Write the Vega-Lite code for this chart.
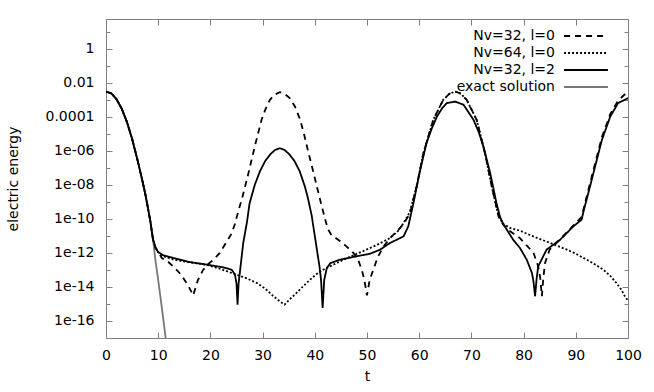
{
  "$schema": "https://vega.github.io/schema/vega-lite/v6.json",
  "width": 522,
  "height": 319,
  "autosize": {"type": "none"},
  "padding": {"left": 106, "top": 19, "right": 26, "bottom": 54},
  "background": "white",
  "config": {
    "view": {"stroke": "#808080", "strokeWidth": 1},
    "axis": {
      "labelFont": "DejaVu Sans", "labelFontSize": 14, "labelColor": "black",
      "titleFont": "DejaVu Sans", "titleFontSize": 14, "titleFontWeight": "normal", "titleColor": "black",
      "domain": false, "grid": false, "tickColor": "#808080", "tickWidth": 1,
      "labelFlush": false, "labelOverlap": false
    }
  },
  "data": {"values": [
    {"s":"exact solution","t":0,"v":3.02e-3},{"s":"exact solution","t":1,"v":2.34e-3},{"s":"exact solution","t":2,"v":1.10e-3},{"s":"exact solution","t":3,"v":3.02e-4},{"s":"exact solution","t":4,"v":5.01e-5},{"s":"exact solution","t":5,"v":5.01e-6},{"s":"exact solution","t":6,"v":3.16e-7},{"s":"exact solution","t":7,"v":1.58e-8},{"s":"exact solution","t":7.5,"v":3.16e-9},{"s":"exact solution","t":8,"v":5.01e-10},{"s":"exact solution","t":8.5,"v":7.08e-11},{"s":"exact solution","t":9,"v":6.31e-12},{"s":"exact solution","t":9.5,"v":3.16e-13},{"s":"exact solution","t":10,"v":2.51e-14},{"s":"exact solution","t":10.5,"v":1.78e-15},{"s":"exact solution","t":11,"v":1.12e-16},{"s":"exact solution","t":11.5,"v":6.31e-18},{"s":"exact solution","t":12,"v":3.16e-19},

    {"s":"Nv=32, l=0","t":0,"v":3.02e-3},{"s":"Nv=32, l=0","t":1,"v":2.34e-3},{"s":"Nv=32, l=0","t":2,"v":1.10e-3},{"s":"Nv=32, l=0","t":3,"v":3.02e-4},{"s":"Nv=32, l=0","t":4,"v":5.01e-5},{"s":"Nv=32, l=0","t":5,"v":5.01e-6},{"s":"Nv=32, l=0","t":6,"v":3.16e-7},{"s":"Nv=32, l=0","t":7,"v":1.58e-8},{"s":"Nv=32, l=0","t":7.5,"v":3.16e-9},{"s":"Nv=32, l=0","t":8,"v":5.01e-10},{"s":"Nv=32, l=0","t":8.5,"v":7.08e-11},{"s":"Nv=32, l=0","t":9,"v":6.31e-12},{"s":"Nv=32, l=0","t":9.5,"v":2.0e-12},
    {"s":"Nv=32, l=0","t":10,"v":1.12e-12},{"s":"Nv=32, l=0","t":10.7,"v":5.01e-13},{"s":"Nv=32, l=0","t":12,"v":2.82e-13},{"s":"Nv=32, l=0","t":12.9,"v":1.58e-13},{"s":"Nv=32, l=0","t":14,"v":7.08e-14},{"s":"Nv=32, l=0","t":14.8,"v":3.39e-14},{"s":"Nv=32, l=0","t":15.8,"v":1.12e-14},{"s":"Nv=32, l=0","t":16.7,"v":3.16e-15},{"s":"Nv=32, l=0","t":17.6,"v":2.51e-14},{"s":"Nv=32, l=0","t":18.6,"v":1e-13},{"s":"Nv=32, l=0","t":19.6,"v":2.24e-13},{"s":"Nv=32, l=0","t":20.6,"v":3.98e-13},{"s":"Nv=32, l=0","t":21.8,"v":1e-12},{"s":"Nv=32, l=0","t":23,"v":3.98e-12},{"s":"Nv=32, l=0","t":24,"v":1.26e-11},{"s":"Nv=32, l=0","t":24.7,"v":5.01e-11},{"s":"Nv=32, l=0","t":25.3,"v":2.51e-10},{"s":"Nv=32, l=0","t":26,"v":1.32e-9},{"s":"Nv=32, l=0","t":27.3,"v":4.9e-8},{"s":"Nv=32, l=0","t":28.5,"v":1.78e-6},{"s":"Nv=32, l=0","t":29.8,"v":6.61e-5},{"s":"Nv=32, l=0","t":30.5,"v":2.51e-4},{"s":"Nv=32, l=0","t":31.4,"v":9.77e-4},{"s":"Nv=32, l=0","t":32.3,"v":2.0e-3},{"s":"Nv=32, l=0","t":33.3,"v":2.75e-3},{"s":"Nv=32, l=0","t":34.2,"v":2.24e-3},{"s":"Nv=32, l=0","t":35.2,"v":1.23e-3},{"s":"Nv=32, l=0","t":36.2,"v":3.98e-4},{"s":"Nv=32, l=0","t":37.2,"v":6.61e-5},{"s":"Nv=32, l=0","t":38,"v":7.94e-6},{"s":"Nv=32, l=0","t":38.8,"v":7.24e-7},{"s":"Nv=32, l=0","t":39.6,"v":7.94e-8},{"s":"Nv=32, l=0","t":40.4,"v":7.94e-9},{"s":"Nv=32, l=0","t":41.2,"v":7.94e-10},{"s":"Nv=32, l=0","t":42,"v":8.91e-11},{"s":"Nv=32, l=0","t":42.5,"v":2.51e-11},{"s":"Nv=32, l=0","t":43.2,"v":1.12e-11},{"s":"Nv=32, l=0","t":44.8,"v":5.01e-12},{"s":"Nv=32, l=0","t":46,"v":2.51e-12},{"s":"Nv=32, l=0","t":47.4,"v":1e-12},{"s":"Nv=32, l=0","t":48.3,"v":3.98e-13},{"s":"Nv=32, l=0","t":49,"v":1e-13},{"s":"Nv=32, l=0","t":49.5,"v":2.51e-14},{"s":"Nv=32, l=0","t":50,"v":3.16e-15},{"s":"Nv=32, l=0","t":50.5,"v":2.51e-14},{"s":"Nv=32, l=0","t":51.2,"v":1e-13},{"s":"Nv=32, l=0","t":52,"v":5.01e-13},{"s":"Nv=32, l=0","t":53.1,"v":2.24e-12},{"s":"Nv=32, l=0","t":54.5,"v":7.94e-12},{"s":"Nv=32, l=0","t":55.7,"v":1.78e-11},{"s":"Nv=32, l=0","t":57,"v":5.01e-11},{"s":"Nv=32, l=0","t":58.2,"v":2.0e-10},{"s":"Nv=32, l=0","t":59.5,"v":7.94e-9},{"s":"Nv=32, l=0","t":60.8,"v":7.24e-7},{"s":"Nv=32, l=0","t":62.7,"v":6.61e-5},{"s":"Nv=32, l=0","t":64.6,"v":9.77e-4},{"s":"Nv=32, l=0","t":65.8,"v":2.24e-3},{"s":"Nv=32, l=0","t":66.9,"v":3.02e-3},{"s":"Nv=32, l=0","t":68,"v":2.24e-3},{"s":"Nv=32, l=0","t":69.1,"v":9.77e-4},{"s":"Nv=32, l=0","t":71,"v":6.61e-5},{"s":"Nv=32, l=0","t":72.6,"v":7.24e-7},{"s":"Nv=32, l=0","t":73.9,"v":7.94e-9},{"s":"Nv=32, l=0","t":75.2,"v":1.38e-10},{"s":"Nv=32, l=0","t":76.1,"v":4.47e-11},{"s":"Nv=32, l=0","t":77.5,"v":1.78e-11},{"s":"Nv=32, l=0","t":79.3,"v":7.41e-12},{"s":"Nv=32, l=0","t":81,"v":2.0e-12},{"s":"Nv=32, l=0","t":81.9,"v":1e-12},{"s":"Nv=32, l=0","t":82.8,"v":1.58e-13},{"s":"Nv=32, l=0","t":83.2,"v":3.16e-14},{"s":"Nv=32, l=0","t":83.5,"v":2.82e-15},{"s":"Nv=32, l=0","t":83.8,"v":3.98e-14},{"s":"Nv=32, l=0","t":84.1,"v":2.51e-13},{"s":"Nv=32, l=0","t":85,"v":1.58e-12},{"s":"Nv=32, l=0","t":87,"v":6.31e-12},{"s":"Nv=32, l=0","t":89.5,"v":3.98e-11},{"s":"Nv=32, l=0","t":91.1,"v":1.26e-10},{"s":"Nv=32, l=0","t":92.4,"v":5.01e-9},{"s":"Nv=32, l=0","t":93.7,"v":1.78e-7},{"s":"Nv=32, l=0","t":95,"v":6.31e-6},{"s":"Nv=32, l=0","t":96.6,"v":1.41e-4},{"s":"Nv=32, l=0","t":98.1,"v":8.91e-4},{"s":"Nv=32, l=0","t":100,"v":3.02e-3},

    {"s":"Nv=64, l=0","t":0,"v":3.02e-3},{"s":"Nv=64, l=0","t":1,"v":2.34e-3},{"s":"Nv=64, l=0","t":2,"v":1.10e-3},{"s":"Nv=64, l=0","t":3,"v":3.02e-4},{"s":"Nv=64, l=0","t":4,"v":5.01e-5},{"s":"Nv=64, l=0","t":5,"v":5.01e-6},{"s":"Nv=64, l=0","t":6,"v":3.16e-7},{"s":"Nv=64, l=0","t":7,"v":1.58e-8},{"s":"Nv=64, l=0","t":7.5,"v":3.16e-9},{"s":"Nv=64, l=0","t":8,"v":5.01e-10},{"s":"Nv=64, l=0","t":8.5,"v":7.08e-11},{"s":"Nv=64, l=0","t":9,"v":6.31e-12},{"s":"Nv=64, l=0","t":9.5,"v":2.0e-12},
    {"s":"Nv=64, l=0","t":10,"v":1.12e-12},{"s":"Nv=64, l=0","t":11,"v":6.31e-13},{"s":"Nv=64, l=0","t":13,"v":3.98e-13},{"s":"Nv=64, l=0","t":16,"v":2.82e-13},{"s":"Nv=64, l=0","t":19.3,"v":2.0e-13},{"s":"Nv=64, l=0","t":22,"v":1.12e-13},{"s":"Nv=64, l=0","t":25,"v":5.25e-14},{"s":"Nv=64, l=0","t":27,"v":3.16e-14},{"s":"Nv=64, l=0","t":28.9,"v":1.70e-14},{"s":"Nv=64, l=0","t":30.5,"v":7.94e-15},{"s":"Nv=64, l=0","t":32.1,"v":2.82e-15},{"s":"Nv=64, l=0","t":33.3,"v":1.41e-15},{"s":"Nv=64, l=0","t":34.2,"v":9.12e-16},{"s":"Nv=64, l=0","t":35.3,"v":2.0e-15},{"s":"Nv=64, l=0","t":36.5,"v":4.47e-15},{"s":"Nv=64, l=0","t":37.8,"v":1.12e-14},{"s":"Nv=64, l=0","t":39.1,"v":2.69e-14},{"s":"Nv=64, l=0","t":40.3,"v":5.62e-14},{"s":"Nv=64, l=0","t":41.6,"v":1.02e-13},{"s":"Nv=64, l=0","t":43.5,"v":2.0e-13},{"s":"Nv=64, l=0","t":45.5,"v":3.98e-13},{"s":"Nv=64, l=0","t":47.7,"v":7.94e-13},{"s":"Nv=64, l=0","t":49.9,"v":1.55e-12},{"s":"Nv=64, l=0","t":52.1,"v":3.16e-12},{"s":"Nv=64, l=0","t":54.4,"v":7.41e-12},{"s":"Nv=64, l=0","t":56,"v":2.0e-11},{"s":"Nv=64, l=0","t":57,"v":5.62e-11},{"s":"Nv=64, l=0","t":58.2,"v":2.51e-10},{"s":"Nv=64, l=0","t":59.5,"v":7.94e-9},{"s":"Nv=64, l=0","t":60.8,"v":7.24e-7},{"s":"Nv=64, l=0","t":62.7,"v":6.61e-5},{"s":"Nv=64, l=0","t":64.6,"v":9.77e-4},{"s":"Nv=64, l=0","t":65.8,"v":2.24e-3},{"s":"Nv=64, l=0","t":66.9,"v":3.02e-3},{"s":"Nv=64, l=0","t":68,"v":2.24e-3},{"s":"Nv=64, l=0","t":69.1,"v":9.77e-4},{"s":"Nv=64, l=0","t":71,"v":6.61e-5},{"s":"Nv=64, l=0","t":72.6,"v":7.24e-7},{"s":"Nv=64, l=0","t":73.9,"v":7.94e-9},{"s":"Nv=64, l=0","t":75.2,"v":1.38e-10},{"s":"Nv=64, l=0","t":76.1,"v":5.01e-11},{"s":"Nv=64, l=0","t":77.5,"v":2.82e-11},{"s":"Nv=64, l=0","t":79.3,"v":2.0e-11},{"s":"Nv=64, l=0","t":82,"v":8.91e-12},{"s":"Nv=64, l=0","t":85.1,"v":3.80e-12},{"s":"Nv=64, l=0","t":88.3,"v":1.55e-12},{"s":"Nv=64, l=0","t":90,"v":8.91e-13},{"s":"Nv=64, l=0","t":92.1,"v":3.98e-13},{"s":"Nv=64, l=0","t":93.8,"v":2.0e-13},{"s":"Nv=64, l=0","t":95.3,"v":1.02e-13},{"s":"Nv=64, l=0","t":96.6,"v":4.47e-14},{"s":"Nv=64, l=0","t":97.8,"v":1.70e-14},{"s":"Nv=64, l=0","t":98.7,"v":7.08e-15},{"s":"Nv=64, l=0","t":99.4,"v":2.82e-15},{"s":"Nv=64, l=0","t":100,"v":1.58e-15},

    {"s":"Nv=32, l=2","t":0,"v":3.02e-3},{"s":"Nv=32, l=2","t":1,"v":2.34e-3},{"s":"Nv=32, l=2","t":2,"v":1.10e-3},{"s":"Nv=32, l=2","t":3,"v":3.02e-4},{"s":"Nv=32, l=2","t":4,"v":5.01e-5},{"s":"Nv=32, l=2","t":5,"v":5.01e-6},{"s":"Nv=32, l=2","t":6,"v":3.16e-7},{"s":"Nv=32, l=2","t":7,"v":1.58e-8},{"s":"Nv=32, l=2","t":7.5,"v":3.16e-9},{"s":"Nv=32, l=2","t":8,"v":5.01e-10},{"s":"Nv=32, l=2","t":8.5,"v":7.08e-11},{"s":"Nv=32, l=2","t":9,"v":6.31e-12},{"s":"Nv=32, l=2","t":9.5,"v":2.0e-12},
    {"s":"Nv=32, l=2","t":10,"v":1.12e-12},{"s":"Nv=32, l=2","t":11,"v":7.08e-13},{"s":"Nv=32, l=2","t":12.9,"v":5.01e-13},{"s":"Nv=32, l=2","t":16.1,"v":2.88e-13},{"s":"Nv=32, l=2","t":19.3,"v":2.04e-13},{"s":"Nv=32, l=2","t":22.5,"v":1.41e-13},{"s":"Nv=32, l=2","t":24.1,"v":1.02e-13},{"s":"Nv=32, l=2","t":24.7,"v":5.25e-14},{"s":"Nv=32, l=2","t":25,"v":1.58e-14},{"s":"Nv=32, l=2","t":25.2,"v":9.12e-16},{"s":"Nv=32, l=2","t":25.4,"v":1.58e-14},{"s":"Nv=32, l=2","t":25.7,"v":1.02e-13},{"s":"Nv=32, l=2","t":26.3,"v":3.98e-12},{"s":"Nv=32, l=2","t":27,"v":6.31e-11},{"s":"Nv=32, l=2","t":27.5,"v":7.94e-10},{"s":"Nv=32, l=2","t":28.5,"v":1e-8},{"s":"Nv=32, l=2","t":29.5,"v":6.31e-8},{"s":"Nv=32, l=2","t":30.5,"v":2.51e-7},{"s":"Nv=32, l=2","t":31.5,"v":6.31e-7},{"s":"Nv=32, l=2","t":32.4,"v":1.12e-6},{"s":"Nv=32, l=2","t":33.3,"v":1.41e-6},{"s":"Nv=32, l=2","t":34.2,"v":1.12e-6},{"s":"Nv=32, l=2","t":35.1,"v":6.31e-7},{"s":"Nv=32, l=2","t":36.1,"v":2.51e-7},{"s":"Nv=32, l=2","t":37.1,"v":6.31e-8},{"s":"Nv=32, l=2","t":38.1,"v":7.94e-9},{"s":"Nv=32, l=2","t":38.7,"v":1.58e-9},{"s":"Nv=32, l=2","t":39.4,"v":1.58e-10},{"s":"Nv=32, l=2","t":40,"v":1e-11},{"s":"Nv=32, l=2","t":40.4,"v":1.58e-12},{"s":"Nv=32, l=2","t":40.9,"v":1.58e-13},{"s":"Nv=32, l=2","t":41.2,"v":2.51e-14},{"s":"Nv=32, l=2","t":41.5,"v":5.75e-16},{"s":"Nv=32, l=2","t":41.8,"v":2.51e-14},{"s":"Nv=32, l=2","t":42.3,"v":1.29e-13},{"s":"Nv=32, l=2","t":43,"v":2.51e-13},{"s":"Nv=32, l=2","t":44.8,"v":3.98e-13},{"s":"Nv=32, l=2","t":48,"v":6.31e-13},{"s":"Nv=32, l=2","t":50.6,"v":8.91e-13},{"s":"Nv=32, l=2","t":52.5,"v":1.55e-12},{"s":"Nv=32, l=2","t":54.4,"v":3.80e-12},{"s":"Nv=32, l=2","t":57,"v":9.33e-12},{"s":"Nv=32, l=2","t":57.9,"v":3.55e-11},{"s":"Nv=32, l=2","t":58.9,"v":8.51e-10},{"s":"Nv=32, l=2","t":60.2,"v":7.59e-8},{"s":"Nv=32, l=2","t":61.4,"v":2.82e-6},{"s":"Nv=32, l=2","t":62.4,"v":2.0e-5},{"s":"Nv=32, l=2","t":63.4,"v":1.02e-4},{"s":"Nv=32, l=2","t":64.4,"v":3.16e-4},{"s":"Nv=32, l=2","t":65.3,"v":6.31e-4},{"s":"Nv=32, l=2","t":66.9,"v":7.76e-4},{"s":"Nv=32, l=2","t":68.5,"v":5.01e-4},{"s":"Nv=32, l=2","t":70.4,"v":6.61e-5},{"s":"Nv=32, l=2","t":71.4,"v":1.26e-5},{"s":"Nv=32, l=2","t":72.3,"v":1.78e-6},{"s":"Nv=32, l=2","t":73.6,"v":4.90e-8},{"s":"Nv=32, l=2","t":74.8,"v":8.51e-10},{"s":"Nv=32, l=2","t":75.5,"v":1.26e-10},{"s":"Nv=32, l=2","t":76.1,"v":5.01e-11},{"s":"Nv=32, l=2","t":78,"v":5.89e-12},{"s":"Nv=32, l=2","t":79.3,"v":1.95e-12},{"s":"Nv=32, l=2","t":80.6,"v":3.98e-13},{"s":"Nv=32, l=2","t":81.6,"v":6.61e-14},{"s":"Nv=32, l=2","t":81.9,"v":2.0e-14},{"s":"Nv=32, l=2","t":82.2,"v":2.82e-15},{"s":"Nv=32, l=2","t":82.5,"v":3.16e-14},{"s":"Nv=32, l=2","t":82.8,"v":1.62e-13},{"s":"Nv=32, l=2","t":84.4,"v":1.55e-12},{"s":"Nv=32, l=2","t":87,"v":5.89e-12},{"s":"Nv=32, l=2","t":89.5,"v":3.55e-11},{"s":"Nv=32, l=2","t":91.1,"v":8.91e-11},{"s":"Nv=32, l=2","t":91.7,"v":5.01e-10},{"s":"Nv=32, l=2","t":92.4,"v":3.24e-9},{"s":"Nv=32, l=2","t":93.7,"v":1.20e-7},{"s":"Nv=32, l=2","t":95,"v":4.37e-6},{"s":"Nv=32, l=2","t":96.6,"v":1.02e-4},{"s":"Nv=32, l=2","t":98.1,"v":6.31e-4},{"s":"Nv=32, l=2","t":100,"v":1.23e-3}
  ]},
  "layer": [
    {
      "mark": {"type": "line", "clip": true, "strokeCap": "butt", "strokeJoin": "miter"},
      "encoding": {
        "x": {"field": "t", "type": "quantitative",
          "scale": {"domain": [0, 100], "nice": false, "zero": false},
          "axis": {"values": [0,10,20,30,40,50,60,70,80,90,100], "format": "d", "tickSize": -6, "labelPadding": 16, "title": "t", "titlePadding": 7}},
        "y": {"field": "v", "type": "quantitative",
          "scale": {"type": "log", "domain": [1e-17, 55], "nice": false},
          "axis": {"values": [1e-17,1e-16,1e-15,1e-14,1e-13,1e-12,1e-11,1e-10,1e-9,1e-8,1e-7,1e-6,1e-5,1e-4,1e-3,1e-2,1e-1,1,10],
            "labelExpr": "abs(round(log(datum.value)/LN10)) % 2 == 1 ? '' : round(log(datum.value)/LN10) == 0 ? '1' : round(log(datum.value)/LN10) == -2 ? '0.01' : round(log(datum.value)/LN10) == -4 ? '0.0001' : '1e-' + (round(-log(datum.value)/LN10) < 10 ? '0' : '') + round(-log(datum.value)/LN10)",
            "tickSize": {"condition": {"test": "abs(round(log(datum.value)/LN10)) % 2 == 1", "value": -4}, "value": -6},
            "labelPadding": 18, "title": "electric energy", "titlePadding": 25}},
        "color": {"field": "s", "type": "nominal",
          "scale": {"domain": ["Nv=32, l=0", "Nv=64, l=0", "Nv=32, l=2", "exact solution"], "range": ["black", "black", "black", "#777777"]},
          "legend": {"title": null, "orient": "none", "legendX": 473, "legendY": 10, "padding": 0, "rowPadding": 3,
            "symbolType": "M-5,0H5", "symbolSize": 77, "labelAlign": "right", "labelOffset": -38,
            "labelFont": "DejaVu Sans", "labelFontSize": 14, "labelColor": "black"}},
        "strokeDash": {"field": "s", "type": "nominal",
          "scale": {"domain": ["Nv=32, l=0", "Nv=64, l=0", "Nv=32, l=2", "exact solution"], "range": [[6, 5], [2, 2], [1, 0], [1, 0]]},
          "legend": {"title": null, "orient": "none", "legendX": 473, "legendY": 10, "padding": 0, "rowPadding": 3,
            "symbolType": "M-5,0H5", "symbolSize": 77, "labelAlign": "right", "labelOffset": -38,
            "labelFont": "DejaVu Sans", "labelFontSize": 14, "labelColor": "black"}},
        "strokeWidth": {"field": "s", "type": "nominal",
          "scale": {"domain": ["Nv=32, l=0", "Nv=64, l=0", "Nv=32, l=2", "exact solution"], "range": [1.8, 1.8, 2, 0.9]},
          "legend": {"title": null, "orient": "none", "legendX": 473, "legendY": 10, "padding": 0, "rowPadding": 3,
            "symbolType": "M-5,0H5", "symbolSize": 77, "labelAlign": "right", "labelOffset": -38,
            "labelFont": "DejaVu Sans", "labelFontSize": 14, "labelColor": "black"}},
        "order": {"field": "t", "type": "quantitative"}
      }
    },
    {
      "mark": {"type": "point", "opacity": 0},
      "encoding": {
        "x": {"field": "t", "type": "quantitative",
          "axis": {"orient": "top", "values": [0,10,20,30,40,50,60,70,80,90,100], "tickSize": -6, "labels": false, "title": null}},
        "y": {"field": "v", "type": "quantitative",
          "axis": {"orient": "right", "values": [1e-17,1e-16,1e-15,1e-14,1e-13,1e-12,1e-11,1e-10,1e-9,1e-8,1e-7,1e-6,1e-5,1e-4,1e-3,1e-2,1e-1,1,10],
            "tickSize": {"condition": {"test": "abs(round(log(datum.value)/LN10)) % 2 == 1", "value": -4}, "value": -6},
            "labels": false, "title": null}}
      }
    }
  ],
  "resolve": {"axis": {"x": "independent", "y": "independent"}}
}
